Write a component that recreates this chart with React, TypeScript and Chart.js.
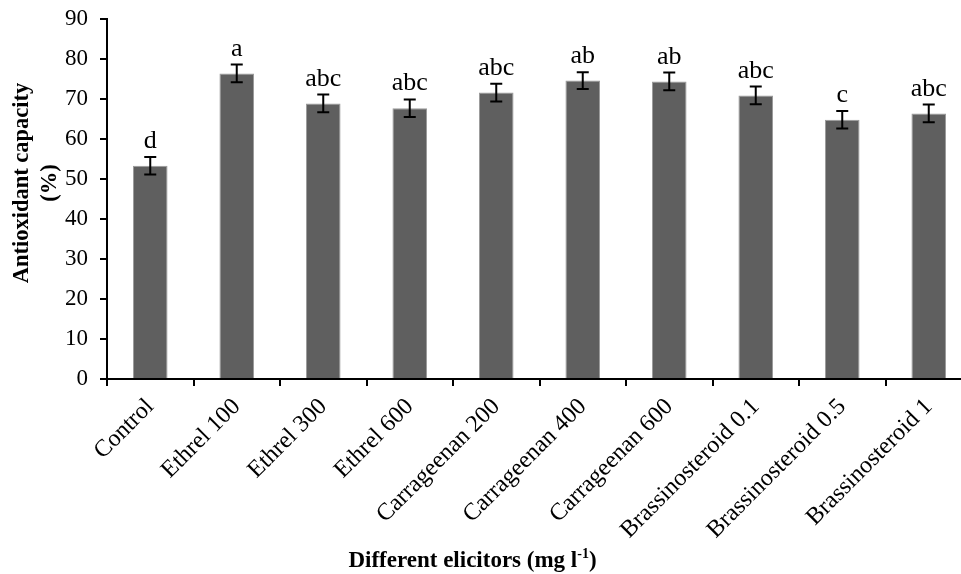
import React, { useEffect, useRef } from "react";
import { Chart, registerables } from "chart.js";

Chart.register(...registerables);

const categories = [
  "Control",
  "Ethrel 100",
  "Ethrel 300",
  "Ethrel 600",
  "Carrageenan 200",
  "Carrageenan 400",
  "Carrageenan 600",
  "Brassinosteroid 0.1",
  "Brassinosteroid 0.5",
  "Brassinosteroid 1",
];
const values = [53.3, 76.4, 68.9, 67.7, 71.6, 74.6, 74.4, 70.9, 64.8, 66.4];
const errors = [2.2, 2.2, 2.2, 2.2, 2.2, 2.1, 2.2, 2.2, 2.2, 2.2];
const letters = ["d", "a", "abc", "abc", "abc", "ab", "ab", "abc", "c", "abc"];
const yTicks = [0, 10, 20, 30, 40, 50, 60, 70, 80, 90];
const yTitle = ["Antioxidant capacity", "(%)"];

const VIEW_W = 961;
const VIEW_H = 574;
const CANVAS_W = 975;
const SERIF = "'Liberation Serif', 'Times New Roman', serif";

export default function App() {
  const ref = useRef<HTMLCanvasElement | null>(null);

  useEffect(() => {
    if (!ref.current) return;

    const errorBarPlugin = {
      id: "errorBars",
      afterDatasetsDraw(chart: any) {
        const ctx = chart.ctx;
        const meta = chart.getDatasetMeta(0);
        const ys = chart.scales.y;
        ctx.save();
        ctx.strokeStyle = "#000";
        ctx.lineWidth = 2;
        meta.data.forEach((bar: any, i: number) => {
          const x = bar.x;
          const top = ys.getPixelForValue(values[i] + errors[i]);
          const bot = ys.getPixelForValue(values[i] - errors[i]);
          const cap = 6;
          ctx.beginPath();
          ctx.moveTo(x, top);
          ctx.lineTo(x, bot);
          ctx.moveTo(x - cap, top);
          ctx.lineTo(x + cap, top);
          ctx.moveTo(x - cap, bot);
          ctx.lineTo(x + cap, bot);
          ctx.stroke();
          ctx.fillStyle = "#000";
          ctx.font = `26px ${SERIF}`;
          ctx.textAlign = "center";
          ctx.textBaseline = "alphabetic";
          ctx.fillText(letters[i], x, top - 9);
        });
        ctx.restore();
      },
    };

    const titlesPlugin = {
      id: "titles",
      afterDraw(chart: any) {
        const ctx = chart.ctx;
        const area = chart.chartArea;
        ctx.save();
        ctx.fillStyle = "#000";
        // x title
        ctx.textBaseline = "alphabetic";
        ctx.textAlign = "left";
        const main = "Different elicitors (mg l";
        const sup = "-1";
        const end = ")";
        const fMain = `bold 23px ${SERIF}`;
        const fSup = `bold 14px ${SERIF}`;
        ctx.font = fMain;
        const wMain = ctx.measureText(main).width;
        const wEnd = ctx.measureText(end).width;
        ctx.font = fSup;
        const wSup = ctx.measureText(sup).width;
        const total = wMain + wSup + wEnd;
        let x = VIEW_W / 2 - 8 - total / 2;
        const y = area.bottom + 188;
        ctx.font = fMain;
        ctx.fillText(main, x, y);
        x += wMain;
        ctx.font = fSup;
        ctx.fillText(sup, x, y - 9);
        x += wSup;
        ctx.font = fMain;
        ctx.fillText(end, x, y);
        // y title
        const cy = 183;
        ctx.font = `bold 22.5px ${SERIF}`;
        ctx.textAlign = "center";
        ctx.textBaseline = "middle";
        yTitle.forEach((line, i) => {
          ctx.save();
          ctx.translate(22 + i * 28, cy);
          ctx.rotate(-Math.PI / 2);
          ctx.fillText(line, 0, 0);
          ctx.restore();
        });
        ctx.restore();
      },
    };

    const chart = new Chart(ref.current, {
      type: "bar",
      data: {
        labels: categories,
        datasets: [
          {
            data: values,
            backgroundColor: "#5f5f5f",
            borderColor: "#9a9a9a",
            borderWidth: 1,
            barPercentage: 0.4,
            categoryPercentage: 1.0,
          },
        ],
      },
      options: {
        animation: false,
        responsive: false,
        layout: { padding: { top: 19, right: 3, left: 0, bottom: 0 } },
        plugins: {
          legend: { display: false },
          tooltip: { enabled: false },
        },
        scales: {
          x: {
            grid: {
              display: true,
              drawOnChartArea: false,
              drawTicks: true,
              tickLength: 7,
              color: "#000",
              lineWidth: 2,
              offset: true,
            },
            border: { display: true, color: "#000", width: 2 },
            ticks: {
              autoSkip: false,
              maxRotation: 45,
              minRotation: 45,
              padding: 7,
              color: "#000",
              font: { family: SERIF, size: 24 },
            },
            afterFit(scale: any) {
              scale.height = 195;
              scale.paddingLeft = 0;
              scale.paddingRight = 0;
            },
          },
          y: {
            min: 0,
            max: 90,
            afterBuildTicks(scale: any) {
              scale.ticks = yTicks.map((v) => ({ value: v }));
            },
            grid: {
              display: true,
              drawOnChartArea: false,
              drawTicks: true,
              tickLength: 7,
              color: "#000",
              lineWidth: 2,
            },
            border: { display: true, color: "#000", width: 2 },
            ticks: {
              padding: 12,
              color: "#000",
              font: { family: SERIF, size: 23 },
            },
            afterFit(scale: any) {
              scale.width = 107;
              scale.paddingTop = 0;
              scale.paddingBottom = 0;
            },
          },
        },
      },
      plugins: [errorBarPlugin, titlesPlugin],
    } as any);

    return () => chart.destroy();
  }, []);

  return (
    <div
      style={{
        position: "absolute",
        left: 0,
        top: 0,
        width: VIEW_W,
        height: VIEW_H,
        overflow: "hidden",
        background: "#fff",
      }}
    >
      <canvas ref={ref} width={CANVAS_W} height={VIEW_H} style={{ display: "block" }} />
    </div>
  );
}
